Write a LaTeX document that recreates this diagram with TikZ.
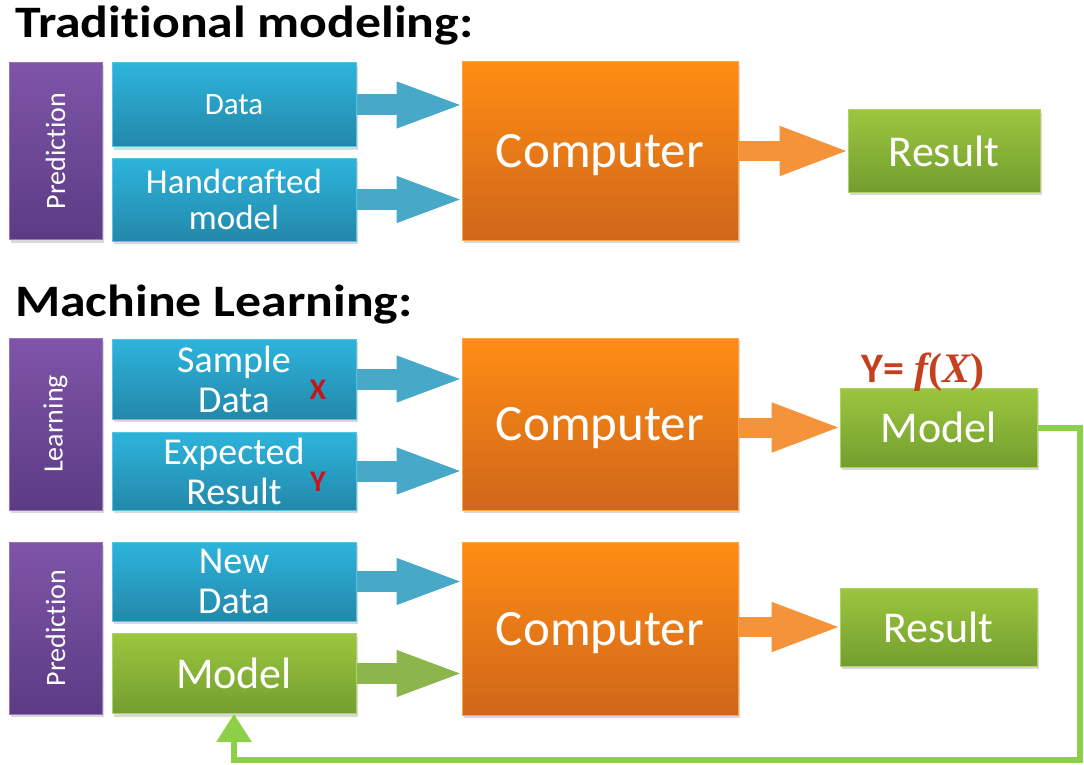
\documentclass[tikz,border=0pt]{standalone}
\usepackage{fontspec}
\setmainfont{Carlito}[Ligatures=NoCommon]
\newfontfamily\headfont{Carlito}[FakeStretch=1.15,Ligatures=NoCommon]
\newfontfamily\formulafont{Liberation Serif}
\usetikzlibrary{arrows.meta,shadows}
\definecolor{bluetop}{HTML}{2DB4DC}
\definecolor{bluebot}{HTML}{2388AA}
\definecolor{orangetop}{HTML}{FF8D14}
\definecolor{orangebot}{HTML}{D0661A}
\definecolor{greentop}{HTML}{9CC63E}
\definecolor{greenbot}{HTML}{739E2F}
\definecolor{purpleL}{HTML}{7E55A8}
\definecolor{purpleD}{HTML}{5C3B84}
\definecolor{bluearrow}{HTML}{47A9C7}
\definecolor{orangearrow}{HTML}{F5933A}
\definecolor{greenarrow}{HTML}{8DB54E}
\definecolor{loopgreen}{HTML}{8CCF48}
\definecolor{labelred}{HTML}{C8141C}
\definecolor{formulared}{HTML}{C4401F}
\begin{document}
\begin{tikzpicture}[x=1pt,y=-1pt,
    box/.style={rectangle,inner sep=0pt,text=white,align=center,line width=1pt,
      drop shadow={opacity=0.3,shadow xshift=2pt,shadow yshift=-3pt}},
    sidebar/.style={box,top color=purpleL,bottom color=purpleD,draw=purpleL!80!white,
      minimum height=93pt,rotate=90,font=\fontsize{28}{30}\selectfont},
    inbox/.style={box,top color=bluetop,bottom color=bluebot,draw=bluetop!80!white,
      minimum width=244pt,font=\fontsize{38}{40}\selectfont},
    modelbox/.style={box,top color=greentop,bottom color=greenbot,draw=greentop!80!white},
    compbox/.style={box,top color=orangetop,bottom color=orangebot,draw=orangetop!80!white,
      minimum width=276pt,text depth=0pt,font=\fontsize{51}{54}\selectfont},
    outbox/.style={modelbox,font=\fontsize{44}{46}\selectfont},
    heading/.style={anchor=base west,inner sep=0pt,font=\headfont\bfseries\fontsize{45}{48}\selectfont},
    feed/.style={line width=21pt,shorten >=-4pt,-{Triangle[length=69pt,width=41pt]}},
    bluefeed/.style={feed,draw=bluearrow},
    greenfeed/.style={feed,draw=greenarrow},
    outfeed/.style={line width=20pt,shorten >=-4pt,draw=orangearrow,-{Triangle[length=72pt,width=44pt]}},
    tag/.style={text=labelred,inner sep=0pt,font=\bfseries\fontsize{30}{30}\selectfont}]
  \useasboundingbox (0,0) rectangle (1084,765);

  % traditional modeling
  \node[heading] (title1) at (15,38) {Traditional modeling:};
  \node[sidebar,minimum width=177pt] (pred1) at (55.5,151) {Prediction};
  \node[inbox,minimum height=84pt,font=\fontsize{31}{33}\selectfont] (data) at (234,105) {Data};
  \node[inbox,minimum height=83pt,font=\fontsize{35}{36}\selectfont] (craft) at (234,199.5) {Handcrafted\\model};
  \node[compbox,minimum height=178pt] (comp1) at (600,151) {Computer};
  \node[outbox,minimum width=192pt,minimum height=82pt] (result1) at (944,151) {Result};
  \draw[bluefeed] (data.east) -- (data.east -| comp1.west);
  \draw[bluefeed] (craft.east) -- (craft.east -| comp1.west);
  \draw[outfeed] (comp1.east |- result1.west) -- (result1.west);

  % machine learning
  \node[heading] (title2) at (15,316) {Machine Learning:};
  \node[sidebar,minimum width=172pt] (learn) at (55.5,424) {Learning};
  \node[inbox,minimum height=80pt] (sample) at (234,379) {Sample\\Data};
  \node[inbox,minimum height=78pt] (expect) at (234,471) {Expected\\Result};
  \node[tag] (xlab) at (318,390) {X};
  \node[tag] (ylab) at (318,482) {Y};
  \node[compbox,minimum height=172pt] (comp2) at (600,424) {Computer};
  \node[outbox,minimum width=197pt,minimum height=79pt] (model1) at (938.5,427.5) {Model};
  \node[text=formulared,inner sep=0pt,anchor=base,font=\bfseries\fontsize{42}{42}\selectfont]
    (formula) at (923,382) {Y= {\formulafont\itshape f}{\formulafont(}{\formulafont\itshape X}{\formulafont)}};
  \draw[bluefeed] (sample.east) -- (sample.east -| comp2.west);
  \draw[bluefeed] (expect.east) -- (expect.east -| comp2.west);
  \draw[outfeed] (comp2.east |- model1.west) -- (model1.west);

  % prediction with the learned model
  \node[sidebar,minimum width=172pt] (pred2) at (55.5,628) {Prediction};
  \node[inbox,minimum height=79pt] (newdata) at (234,581.5) {New\\Data};
  \node[outbox,minimum width=244pt,minimum height=80pt] (model2) at (234,673.5) {Model};
  \node[compbox,minimum height=173pt] (comp3) at (600,628.5) {Computer};
  \node[outbox,minimum width=197pt,minimum height=78pt] (result2) at (938.5,627) {Result};
  \draw[bluefeed] (newdata.east) -- (newdata.east -| comp3.west);
  \draw[greenfeed] (model2.east) -- (model2.east -| comp3.west);
  \draw[outfeed] (comp3.east |- result2.west) -- (result2.west);

  \coordinate (turn) at (1080,760);
  \draw[loopgreen,line width=6pt,-{Triangle[length=28pt,width=34pt]}]
    (model1.east) -| (turn) -| (model2.south);
\end{tikzpicture}
\end{document}
